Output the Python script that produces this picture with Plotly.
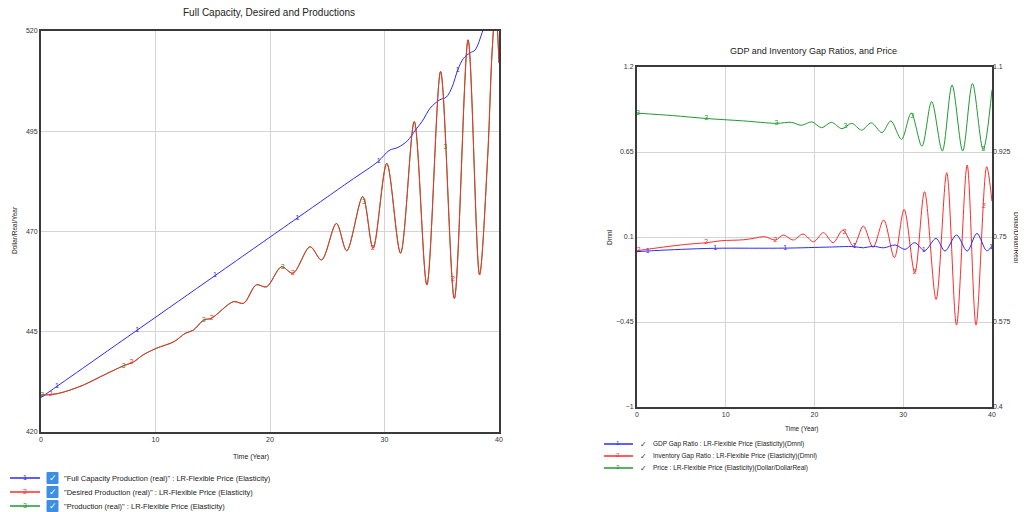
import numpy as np
import plotly.graph_objects as go

# ---------------- Left chart data ----------------
t_full = [0, 1.4, 5, 8.4, 12, 15.2, 19, 22.4, 25, 27.3, 28.4, 29.5, 30.4, 31.2, 32.0, 32.7,
          33.3, 34.0, 34.8, 35.4, 35.9, 36.4, 36.9, 37.5, 37.9, 38.6, 39.2, 40]
full_capacity = [428.6, 431.4, 438.6, 445.4, 452.6, 459.0, 466.6, 473.4, 478.6, 483.2, 485.3,
                 487.6, 490.2, 491.0, 492.6, 495.3, 497.5, 500.8, 502.8, 503.5, 506.0, 510.3,
                 513.2, 514.6, 515.2, 520.2, 525.5, 530.0]

t_desired = [0, 1.5, 3.7, 5.2, 7.2, 8.1, 8.9, 10.1, 11.6, 12.6, 13.3, 14.2, 14.9, 16.8, 17.7,
             18.8, 19.7, 21.0, 22.0, 23.5, 24.5, 25.8, 26.7, 28.1, 29.0, 30.2, 31.4, 32.6,
             33.7, 34.9, 36.1, 37.3, 38.3, 39.0, 39.4, 39.7, 40]
desired_production = [429.2, 429.6, 431.7, 433.8, 436.5, 437.5, 439.2, 440.9, 442.5, 444.6,
                       445.4, 447.9, 448.4, 452.5, 452.1, 456.7, 456.2, 461.2, 459.6, 466.2,
                       462.9, 472.0, 465.2, 478.7, 465.8, 487.0, 464.6, 497.4, 456.7, 509.9,
                       453.3, 517.8, 459.2, 488.0, 515.0, 526.0, 512.0]
# Production (real) is drawn underneath and is indistinguishable from desired production
t_production = list(t_desired)
production_real = list(desired_production)

left_marker_t = {"1": [1.4, 8.4, 15.2, 22.4, 29.5, 36.4],
                 "2": [0.85, 7.9, 14.9, 22.0, 29.0, 36.0],
                 "3": [0.1, 7.2, 14.2, 21.1, 28.2, 35.3]}

# ---------------- Right chart data ----------------
t_gdp = [0, 2, 5, 8.8, 16.7, 21.7, 24.4, 25.5, 26.6, 27.8, 29.1, 30.2, 31.3, 32.4, 33.7,
         34.7, 36.0, 37.2, 38.3, 39.4, 40]
gdp_gap = [0.005, 0.012, 0.020, 0.027, 0.028, 0.035, 0.038, 0.030, 0.040, 0.030, 0.048,
           0.020, 0.063, 0.011, 0.091, 0.009, 0.113, 0.009, 0.123, 0.011, 0.040]

t_inv = [0, 3, 5.5, 7.8, 9.5, 12, 13.2, 14.4, 15.6, 16.5, 17.6, 18.7, 19.9, 21.0, 22.1, 23.2,
         24.4, 25.5, 26.6, 27.8, 29.0, 30.1, 31.3, 32.4, 33.7, 34.9, 36.0, 37.2, 38.2, 39.4, 40]
inventory_gap = [0.011, 0.035, 0.052, 0.063, 0.076, 0.082, 0.092, 0.102, 0.080, 0.113, 0.080,
                 0.119, 0.069, 0.128, 0.063, 0.145, 0.041, 0.171, 0.033, 0.210, -0.034, 0.279,
                 -0.131, 0.393, -0.304, 0.516, -0.470, 0.566, -0.470, 0.555, 0.330]

t_price = [0, 4, 7.8, 12, 15.7, 17.4, 18.5, 19.7, 20.8, 21.9, 23.1, 24.2, 25.3, 26.4, 27.6,
           28.6, 29.8, 30.9, 32.1, 33.2, 34.4, 35.5, 36.7, 37.8, 39.0, 40]
price = [1.005, 1.000, 0.994, 0.989, 0.984, 0.986, 0.980, 0.987, 0.975, 0.986, 0.973, 0.984,
         0.970, 0.985, 0.965, 0.989, 0.951, 1.005, 0.937, 1.029, 0.927, 1.063, 0.927, 1.066,
         0.930, 1.053]

right_marker_t = {"1": [1.2, 8.8, 16.7, 24.5, 32.3, 39.9],
                  "2": [0.2, 7.8, 15.6, 23.4, 31.3, 39.1],
                  "3": [0.1, 7.8, 15.7, 23.5, 31.0, 39.0]}

BLUE = "#2a2aff"
RED = "#ff2a2a"
GREEN = "#1f9a2f"
FONT = "Liberation Sans, Arial, sans-serif"
# The page body has an 8px margin, so the figure is placed 8px in from the window corner.
OFF = 8
WIN_W, WIN_H = 1026, 512
W, H = WIN_W - OFF, WIN_H - OFF


def px(x):
    return (x - OFF) / W


def py(y):
    return 1 - (y - OFF) / H


fig = go.Figure()


def add_series(t, v, color, xa, ya, digit, mt):
    fig.add_trace(go.Scatter(x=t, y=v, mode="lines", line=dict(color=color, width=1, shape="spline", smoothing=0.9),
                             xaxis=xa, yaxis=ya, hoverinfo="x+y"))
    mty = np.interp(mt, t, v)
    fig.add_trace(go.Scatter(x=mt, y=mty, mode="text", text=[digit] * len(mt),
                             textfont=dict(color=color, size=7, family=FONT),
                             xaxis=xa, yaxis=ya, hoverinfo="skip"))


# Left chart (green first so it sits underneath)
add_series(t_production, production_real, GREEN, "x", "y", "3", left_marker_t["3"])
add_series(t_full, full_capacity, BLUE, "x", "y", "1", left_marker_t["1"])
add_series(t_desired, desired_production, RED, "x", "y", "2", left_marker_t["2"])

# Right chart
add_series(t_price, price, GREEN, "x2", "y3", "3", right_marker_t["3"])
add_series(t_inv, inventory_gap, RED, "x2", "y2", "2", right_marker_t["2"])
add_series(t_gdp, gdp_gap, BLUE, "x2", "y2", "1", right_marker_t["1"])

axis_common = dict(showline=True, linecolor="#3a3a3a", linewidth=2, mirror=True,
                   showgrid=True, gridcolor="#d4d4d4", gridwidth=1, zeroline=False,
                   automargin=False,
                   ticks="", tickfont=dict(size=7, family=FONT, color="#333"))

fig.update_layout(
    width=W, height=H, autosize=False,
    margin=dict(l=0, r=0, t=0, b=0, pad=0),
    paper_bgcolor="white", plot_bgcolor="white",
    showlegend=False,
    xaxis=dict(domain=[px(41), px(499)], range=[0, 40], anchor="y",
               tickvals=[0, 10, 20, 30, 40], **axis_common),
    yaxis=dict(domain=[py(432), py(31)], range=[420, 520], anchor="x",
               tickvals=[420, 445, 470, 495, 520], **axis_common),
    xaxis2=dict(domain=[px(637), px(992)], range=[0, 40], anchor="y2",
                tickvals=[0, 10, 20, 30, 40], **axis_common),
    yaxis2=dict(domain=[py(407), py(67)], range=[-1, 1.2], anchor="x2",
                tickvals=[-1, -0.45, 0.1, 0.65, 1.2], **axis_common),
    yaxis3=dict(range=[0.4, 1.1], overlaying="y2", side="right", anchor="x2",
                tickvals=[0.4, 0.575, 0.75, 0.925, 1.1], showgrid=False, zeroline=False,
                automargin=False,
                showline=False, ticks="", tickfont=dict(size=7, family=FONT, color="#333")),
)

ann = []


def text(x, y, s, size=7, angle=0, xanchor="center", color="#222"):
    ann.append(dict(x=px(x), y=py(y), xref="paper", yref="paper", text=s, showarrow=False,
                    font=dict(size=size, family=FONT, color=color), textangle=angle,
                    xanchor=xanchor, yanchor="middle"))


text(269, 13, "Full Capacity, Desired and Productions", size=10)
text(813, 51, "GDP and Inventory Gap Ratios, and Price", size=9)
text(251, 457, "Time (Year)")
text(801, 429, "Time (Year)", size=6.5)
text(14, 230, "Dollar/Real/Year", size=6.5, angle=-90)
text(610, 237, "Dmnl", size=6.5, angle=-90)
text(1016, 237, "Dollar/Dollar/Real", size=6.5, angle=90)

shapes = []

left_legend = [("\"Full Capacity Production (real)\" : LR-Flexible Price (Elasticity)", BLUE, "1"),
               ("\"Desired Production (real)\" : LR-Flexible Price (Elasticity)", RED, "2"),
               ("\"Production (real)\" : LR-Flexible Price (Elasticity)", GREEN, "3")]
for i, (lab, col, d) in enumerate(left_legend):
    yy = 478 + i * 14
    shapes.append(dict(type="line", xref="paper", yref="paper", x0=px(10), x1=px(40),
                       y0=py(yy), y1=py(yy), line=dict(color=col, width=1.5)))
    text(25, yy - 1, d, size=7, color=col)
    shapes.append(dict(type="rect", xref="paper", yref="paper", x0=px(47), x1=px(58),
                       y0=py(yy + 5.5), y1=py(yy - 5.5), fillcolor="#3d8fe6",
                       line=dict(color="#3d8fe6", width=1)))
    text(52.5, yy, "✓", size=9, color="white")
    text(62, yy, lab, size=7.5, xanchor="left")

right_legend = [("GDP Gap Ratio : LR-Flexible Price (Elasticity)(Dmnl)", BLUE, "1"),
                ("Inventory Gap Ratio : LR-Flexible Price (Elasticity)(Dmnl)", RED, "2"),
                ("Price : LR-Flexible Price (Elasticity)(Dollar/DollarReal)", GREEN, "3")]
for i, (lab, col, d) in enumerate(right_legend):
    yy = 444 + i * 12
    shapes.append(dict(type="line", xref="paper", yref="paper", x0=px(604), x1=px(633),
                       y0=py(yy), y1=py(yy), line=dict(color=col, width=1.5)))
    text(618, yy - 1, d, size=6, color=col)
    text(643, yy, "✓", size=8, color="#333")
    text(651, yy, lab, size=6.5, xanchor="left")

fig.update_layout(annotations=ann, shapes=shapes)

fig.write_html("out.html")
